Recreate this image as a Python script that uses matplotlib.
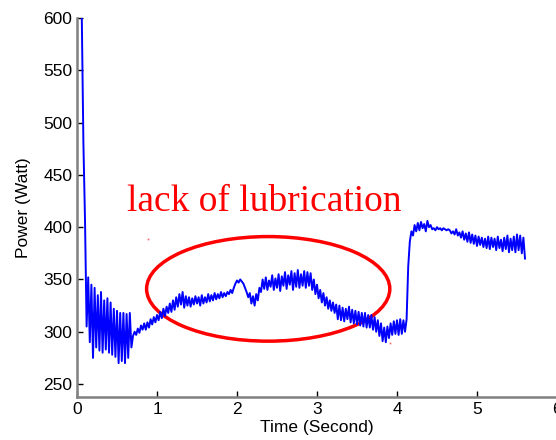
import numpy as np
import matplotlib.pyplot as plt
from matplotlib.patches import Ellipse

# power samples, one every 0.02 s starting at t = 0.06 s
t_start = 0.06
dt = 0.02
power = [
    600, 480, 407, 305, 352, 290, 345, 275, 342, 285,
    335, 282, 338, 280, 330, 283, 332, 280, 328, 278,
    322, 276, 320, 270, 318, 272, 318, 270, 317, 275,
    318, 285, 296, 300, 297, 303, 299, 306, 302, 308,
    302, 309, 304, 312, 307, 314, 309, 316, 311, 319,
    313, 322, 315, 324, 318, 327, 319, 330, 321, 333,
    324, 336, 326, 338, 323, 334, 325, 333, 324, 332,
    326, 334, 327, 333, 325, 335, 327, 333, 328, 336,
    329, 335, 330, 337, 331, 336, 332, 338, 333, 337,
    334, 338, 336, 340, 337, 342, 346, 349, 347, 350,
    348, 346, 342, 338, 333, 337, 327, 334, 325, 336,
    330, 342, 338, 350, 341, 352, 340, 349, 343, 354,
    340, 351, 342, 355, 339, 353, 344, 357, 341, 354,
    345, 358, 340, 356, 343, 359, 342, 355, 344, 358,
    342, 357, 344, 356, 340, 350, 336, 345, 332, 340,
    328, 337, 325, 333, 322, 330, 320, 328, 318, 326,
    312, 325, 311, 323, 310, 322, 312, 324, 309, 321,
    308, 320, 307, 319, 306, 318, 305, 318, 304, 316,
    304, 316, 302, 314, 300, 311, 296, 308, 291, 304,
    290, 305, 294, 308, 297, 310, 298, 311, 297, 312,
    298, 311, 300, 312, 362, 386, 396, 392, 402, 396,
    404, 397, 405, 399, 403, 396, 406, 400, 402, 398,
    399, 397, 400, 398, 399, 397, 399, 398, 397, 398,
    397, 394, 396, 393, 398, 392, 395, 390, 396, 388,
    394, 386, 395, 385, 393, 384, 392, 382, 391, 383,
    390, 381, 389, 380, 391, 379, 390, 381, 389, 378,
    391, 380, 388, 377, 390, 379, 392, 376, 389, 378,
    391, 376, 393, 378, 392, 375, 390, 370,
]
time = t_start + dt * np.arange(len(power))

note = "lack of lubrication"
note_pos = (0.625, 415)
ellipse_center = (2.39, 341)
ellipse_size = (3.04, 100)
speck_t = [0.89, 3.91]
speck_p = [389, 289]

plt.rcParams['font.family'] = ['Liberation Sans', 'DejaVu Sans']

fig = plt.figure(figsize=(5.56, 4.4), dpi=100)
ax = fig.add_axes([0.1385, 0.0977, 0.8633, 0.8614])

ax.plot(time, power, color='#0000ff', lw=1.4)

ax.add_patch(Ellipse(ellipse_center, ellipse_size[0], ellipse_size[1],
                     fill=False, edgecolor='#ff0000', lw=2.5))
ax.plot(speck_t, speck_p, 's', color='#ff6060', ms=1.2, mew=0)
ax.text(note_pos[0], note_pos[1], note, color='#ff0000', fontsize=27,
        family=['Liberation Serif', 'DejaVu Serif'], ha='left', va='baseline')

ax.set_xlim(0, 6)
ax.set_ylim(237.6, 600)
ax.set_xticks([0, 1, 2, 3, 4, 5, 6])
ax.set_yticks([250, 300, 350, 400, 450, 500, 550, 600])

for side in ['top', 'right']:
    ax.spines[side].set_visible(False)
for side in ['left', 'bottom']:
    ax.spines[side].set_color('#808080')
    ax.spines[side].set_linewidth(1.8)

ax.tick_params(direction='in', length=4, width=1, colors='black', labelsize=12.5)
ax.set_xlabel("Time (Second)", fontsize=12.5, labelpad=2)
ax.set_ylabel("Power (Watt)", fontsize=12.5, labelpad=9)

fig.savefig("out.png", dpi=100)
